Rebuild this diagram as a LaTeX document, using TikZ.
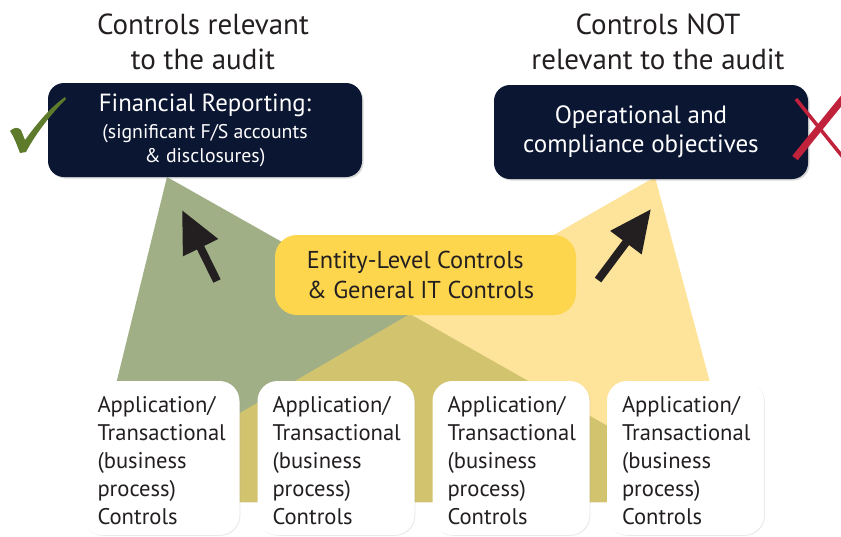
\documentclass[tikz,border=0pt]{standalone}
\usepackage{fontspec}
\setmainfont{PT Sans}
\usetikzlibrary{arrows.meta,shadows}
\definecolor{navy}{HTML}{0B1633}
\definecolor{sage}{HTML}{A0AF85}
\definecolor{paleyel}{HTML}{FEE49A}
\definecolor{olive}{HTML}{D2C46F}
\definecolor{entity}{HTML}{FDD64E}
\definecolor{checkgreen}{HTML}{5E7B2C}
\definecolor{xred}{HTML}{C1223B}
\definecolor{ink}{HTML}{231F20}
\tikzset{
  darkbox/.style={fill=navy, rounded corners=16pt, minimum width=314pt, minimum height=94pt,
    text=white, align=center, inner sep=0pt,
    drop shadow={opacity=0.3, shadow xshift=1.5pt, shadow yshift=-1.5pt}},
  entitybox/.style={fill=entity, rounded corners=22pt, minimum width=301pt, minimum height=80pt,
    text=ink, align=left, inner sep=0pt, font=\fontsize{24.4}{30}\selectfont},
  appbox/.style={fill=white, rounded corners=20pt, minimum width=157pt, minimum height=154pt,
    text=ink, align=left, inner xsep=15pt, inner ysep=0pt, text width=127pt,
    font=\fontsize{22.6}{28}\selectfont,
    drop shadow={opacity=0.18, shadow xshift=0.8pt, shadow yshift=-0.8pt}},
  title/.style={text=ink, align=center, font=\fontsize{29}{35}\selectfont, inner sep=0pt},
  bigarrow/.style={draw=ink, line width=8pt, -{Triangle[length=42pt,width=37pt]}}
}
\begin{document}
\begin{tikzpicture}[x=1pt,y=-1pt]
\clip (0,0) rectangle (841,536);
\fill[white] (0,0) rectangle (841,536);
% triangles
\fill[sage] (167,177) -- (87,502) -- (742,502) -- cycle;
\fill[paleyel] (655,177) -- (87,502) -- (742,502) -- cycle;
\fill[olive] (410,314) -- (87,502) -- (742,502) -- cycle;
% titles
\node[title] (t1) at (203,42) {Controls relevant\\to the audit};
\node[title] (t2) at (658,42) {Controls NOT\\relevant to the audit};
% top boxes
\node[darkbox, font=\fontsize{19.8}{24}\selectfont] (fin) at (205,130)
  {{\fontsize{24.8}{28}\selectfont Financial Reporting:}\\[3pt]
  (significant F/S accounts\\\& disclosures)};
\node[darkbox, font=\fontsize{25}{29}\selectfont] (ops) at (651,132)
  {\hspace*{-20pt}Operational and\\\hspace*{-20pt}compliance objectives};
% entity
\node[entitybox] (ent) at (425.5,275)
  {\hspace*{-10pt}Entity-Level Controls\\\hspace*{-10pt}\& General IT Controls};
% arrows
\coordinate (a1s) at (217,281);
\coordinate (a1t) at (182,210);
\coordinate (a2s) at (598,280);
\coordinate (a2t) at (651,209);
\draw[bigarrow] (a1s) -- (a1t);
\draw[bigarrow] (a2s) -- (a2t);
% bottom boxes
\foreach \n/\cx in {b1/161,b2/336,b3/511,b4/685.5}{
  \node[appbox] (\n) at (\cx,458) {\rule{0pt}{22pt}Application/\\Transactional\\(business\\process)\\Controls};
}
% check mark
\fill[checkgreen] (10,131) .. controls (14,127) and (18,127) .. (21,130)
  -- (25,140) .. controls (38,122) and (52,106) .. (65,97)
  -- (66,99) .. controls (52,113) and (36,133) .. (26,152)
  -- (20,153) .. controls (17,145) and (14,137) .. (10,131) -- cycle;
% X mark
\coordinate (xa) at (796,99);
\coordinate (xb) at (846,161);
\coordinate (xc) at (795,158);
\coordinate (xd) at (846,95);
\draw[xred, line width=3.5pt] (xa) -- (xb);
\draw[xred, line width=7pt] (xc) -- (xd);
\end{tikzpicture}
\end{document}
